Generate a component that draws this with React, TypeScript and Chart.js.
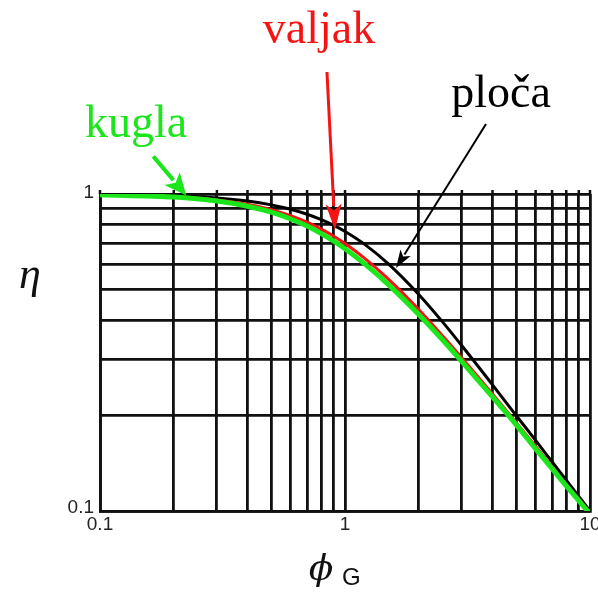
import React, { useEffect, useRef } from "react";
import { Chart, registerables } from "chart.js";

Chart.register(...registerables);

// Generalised Thiele modulus (x axis)
const phiG = [0.1, 0.2, 0.3, 0.4, 0.5, 0.6, 0.7, 0.8, 0.9, 1, 1.2, 1.5, 2, 2.5, 3, 4, 5, 6, 7, 8, 10];

// Effectiveness factor for each pellet geometry
const plocaEta = [0.997, 0.987, 0.971, 0.95, 0.924, 0.895, 0.863, 0.83, 0.796, 0.762, 0.695, 0.603, 0.482, 0.395, 0.332, 0.25, 0.2, 0.167, 0.143, 0.125, 0.1];
const valjakEta = [0.995, 0.98, 0.958, 0.928, 0.893, 0.855, 0.815, 0.775, 0.736, 0.698, 0.628, 0.54, 0.432, 0.357, 0.304, 0.234, 0.19, 0.16, 0.138, 0.121, 0.099];
const kuglaEta = [0.994, 0.978, 0.95, 0.915, 0.876, 0.834, 0.792, 0.75, 0.71, 0.672, 0.603, 0.519, 0.417, 0.347, 0.296, 0.229, 0.187, 0.157, 0.136, 0.12, 0.098];

// Grid positions on the log axes
const xGridValues = [0.1, 0.2, 0.3, 0.4, 0.5, 0.6, 0.7, 0.8, 0.9, 1, 2, 3, 4, 5, 6, 7, 8, 9, 10];
const yGridValues = [0.1, 0.2, 0.3, 0.4, 0.5, 0.6, 0.7, 0.8, 0.9, 1];

// Tick labels
const xLabelValues = [0.1, 1, 10];
const xLabelTexts = ["0.1", "1", "10"];
const yLabelValues = [0.1, 1];
const yLabelTexts = ["0.1", "1"];

const GREEN = "#1be61b";
const RED = "#f51414";
const BLACK = "#000000";
const GRID = "#111111";

// Callouts: label text, arrow tip on the curve (data units)
const callouts = [
  { text: "kugla", color: GREEN, tx: 136, ty: 137, tip: { x: 0.225, y: 0.99 }, tail: { dx: -33, dy: -39 }, lw: 4, head: 22, half: 10 },
  { text: "valjak", color: RED, tx: 319, ty: 43, tip: { x: 0.91, y: 0.77 }, tail: { dx: -8, dy: -158 }, lw: 3, head: 26, half: 8 },
  { text: "ploča", color: BLACK, tx: 501, ty: 107, tip: { x: 1.615, y: 0.584 }, tail: { dx: 90, dy: -144 }, lw: 2, head: 18, half: 6 },
];

function drawArrow(ctx: CanvasRenderingContext2D, x0: number, y0: number, x1: number, y1: number, lw: number, head: number, half: number, color: string) {
  const dx = x1 - x0;
  const dy = y1 - y0;
  const len = Math.hypot(dx, dy);
  const ux = dx / len;
  const uy = dy / len;
  const bx = x1 - ux * head;
  const by = y1 - uy * head;
  ctx.strokeStyle = color;
  ctx.fillStyle = color;
  ctx.lineWidth = lw;
  ctx.lineCap = "butt";
  ctx.beginPath();
  ctx.moveTo(x0, y0);
  ctx.lineTo(bx + ux * 2, by + uy * 2);
  ctx.stroke();
  ctx.beginPath();
  ctx.moveTo(x1, y1);
  ctx.lineTo(bx - uy * half, by + ux * half);
  ctx.lineTo(bx + ux * head * 0.25, by + uy * head * 0.25);
  ctx.lineTo(bx + uy * half, by - ux * half);
  ctx.closePath();
  ctx.fill();
}

const overlayPlugin = {
  id: "overlay",
  afterDraw(chart: any) {
    const ctx: CanvasRenderingContext2D = chart.ctx;
    const xs = chart.scales.x;
    const ys = chart.scales.y;
    const area = chart.chartArea;
    ctx.save();

    // small outward ticks along the top edge
    ctx.strokeStyle = GRID;
    ctx.lineWidth = 2.5;
    xGridValues.forEach((v) => {
      const px = xs.getPixelForValue(v);
      ctx.beginPath();
      ctx.moveTo(px, area.top);
      ctx.lineTo(px, area.top - 4);
      ctx.stroke();
    });

    // tick labels
    ctx.fillStyle = "#222";
    ctx.font = "19px 'Liberation Sans', Arial, sans-serif";
    ctx.textBaseline = "middle";
    ctx.textAlign = "center";
    xLabelValues.forEach((v, i) => {
      ctx.fillText(xLabelTexts[i], xs.getPixelForValue(v), area.bottom + 14);
    });
    ctx.textAlign = "right";
    yLabelValues.forEach((v, i) => {
      const py = ys.getPixelForValue(v) + (v < 1 ? -3 : -1);
      ctx.fillText(yLabelTexts[i], area.left - 6, py);
    });

    // axis titles
    ctx.fillStyle = "#111";
    ctx.textBaseline = "alphabetic";
    ctx.textAlign = "center";
    ctx.font = "italic 44px 'Liberation Serif', 'Times New Roman', serif";
    ctx.fillText("η", 30, 288);
    ctx.font = "italic 36px 'DejaVu Serif', serif";
    ctx.fillText("ϕ", 321, 580);
    ctx.textAlign = "left";
    ctx.font = "24px 'Liberation Sans', Arial, sans-serif";
    ctx.fillText("G", 342, 585);

    // callout labels and arrows
    ctx.textAlign = "center";
    ctx.font = "46px 'Liberation Serif', 'Times New Roman', serif";
    callouts.forEach((c) => {
      ctx.fillStyle = c.color;
      ctx.fillText(c.text, c.tx, c.ty);
      const x1 = xs.getPixelForValue(c.tip.x);
      const y1 = ys.getPixelForValue(c.tip.y);
      drawArrow(ctx, x1 + c.tail.dx, y1 + c.tail.dy, x1, y1, c.lw, c.head, c.half, c.color);
    });

    ctx.restore();
  },
};

export default function App() {
  const canvasRef = useRef<HTMLCanvasElement | null>(null);

  useEffect(() => {
    document.body.style.margin = "0";
    const canvas = canvasRef.current;
    if (!canvas) return;

    const toPoints = (ys: number[]) => phiG.map((x, i) => ({ x, y: ys[i] }));

    const chart = new Chart(canvas, {
      type: "line",
      data: {
        datasets: [
          { label: "kugla", data: toPoints(kuglaEta), borderColor: GREEN, borderWidth: 5, pointRadius: 0, fill: false, cubicInterpolationMode: "monotone" },
          { label: "valjak", data: toPoints(valjakEta), borderColor: RED, borderWidth: 3, pointRadius: 0, fill: false, cubicInterpolationMode: "monotone" },
          { label: "ploča", data: toPoints(plocaEta), borderColor: BLACK, borderWidth: 3, pointRadius: 0, fill: false, cubicInterpolationMode: "monotone" },
        ],
      },
      options: {
        responsive: false,
        animation: false,
        layout: { padding: { left: 100, top: 194, right: 8, bottom: 82 } },
        plugins: { legend: { display: false }, tooltip: { enabled: false } },
        scales: {
          x: {
            type: "logarithmic",
            min: 0.1,
            max: 10,
            afterBuildTicks: (s: any) => {
              s.ticks = xGridValues.map((v) => ({ value: v }));
            },
            ticks: { display: false },
            grid: { color: GRID, lineWidth: 2.8, drawTicks: false },
            border: { display: true, color: GRID, width: 2.8 },
          },
          y: {
            type: "logarithmic",
            min: 0.1,
            max: 1,
            afterBuildTicks: (s: any) => {
              s.ticks = yGridValues.map((v) => ({ value: v }));
            },
            ticks: { display: false },
            grid: { color: GRID, lineWidth: 2.8, drawTicks: false },
            border: { display: true, color: GRID, width: 2.8 },
          },
        },
      },
      plugins: [overlayPlugin],
    } as any);

    return () => chart.destroy();
  }, []);

  return (
    <div style={{ width: 598, height: 593, background: "#fff" }}>
      <canvas ref={canvasRef} width={598} height={593} style={{ display: "block" }} />
    </div>
  );
}
